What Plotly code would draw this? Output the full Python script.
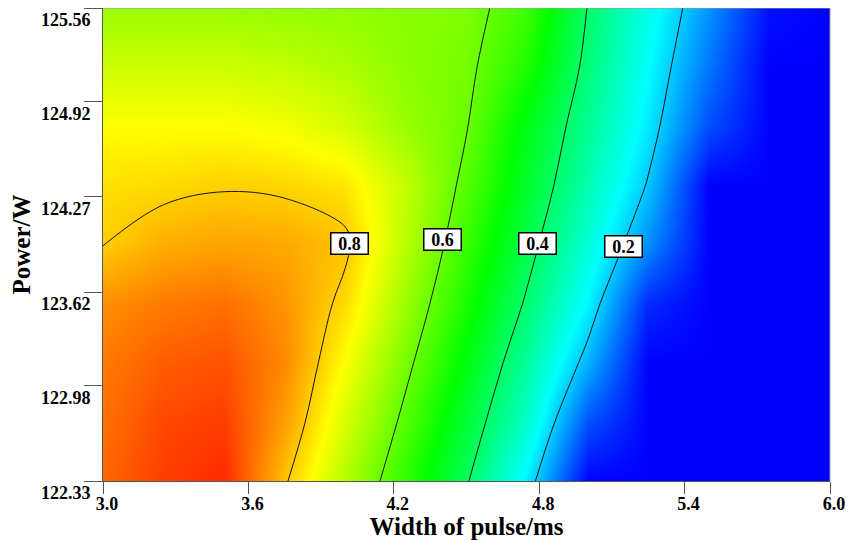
import plotly.graph_objects as go

# Width of pulse (ms) grid and Power (W) grid
width_ms = [3.0, 3.25, 3.5, 3.75, 4.0, 4.25, 4.5, 4.75, 5.0, 5.25, 5.5, 5.75, 6.0]
power_w = [122.33, 122.73, 123.14, 123.54, 123.95, 124.35, 124.75, 125.16, 125.56]

# Desirability values (rows: power, bottom to top)
desirability = [
    [0.90, 0.94, 0.96, 0.807, 0.675, 0.544, 0.407, 0.232, 0.0, 0.0, 0.0, 0.0, 0.0],
    [0.89, 0.93, 0.94, 0.845, 0.711, 0.581, 0.446, 0.30, 0.08, 0.0, 0.0, 0.0, 0.0],
    [0.88, 0.91, 0.92, 0.865, 0.748, 0.617, 0.485, 0.345, 0.175, 0.0, 0.0, 0.0, 0.0],
    [0.86, 0.88, 0.89, 0.855, 0.785, 0.651, 0.522, 0.39, 0.241, 0.04, 0.0, 0.0, 0.0],
    [0.798, 0.83, 0.84, 0.835, 0.81, 0.68, 0.554, 0.427, 0.288, 0.14, 0.0, 0.0, 0.0],
    [0.78, 0.785, 0.795, 0.79, 0.775, 0.69, 0.582, 0.458, 0.327, 0.194, 0.0, 0.0, 0.0],
    [0.75, 0.75, 0.75, 0.74, 0.71, 0.65, 0.603, 0.479, 0.356, 0.229, 0.076, 0.0, 0.0],
    [0.70, 0.70, 0.70, 0.69, 0.67, 0.635, 0.615, 0.53, 0.38, 0.252, 0.115, 0.0, 0.0],
    [0.65, 0.65, 0.65, 0.645, 0.64, 0.632, 0.625, 0.56, 0.398, 0.273, 0.145, 0.015, 0.0],
]

x_ticks = [3.0, 3.6, 4.2, 4.8, 5.4, 6.0]
x_ticktext = ["3.0", "3.6", "4.2", "4.8", "5.4", "6.0"]
y_ticks = [122.33, 122.98, 123.62, 124.27, 124.92, 125.56]
y_ticktext = ["122.33", "122.98", "123.62", "124.27", "124.92", "125.56"]

# contour label texts and where they sit on their lines
label_text = ["0.8", "0.6", "0.4", "0.2"]
label_x = [4.019, 4.403, 4.795, 5.146]
label_y = [123.95, 123.98, 123.95, 123.93]

colorscale = [
    [0.0, "rgb(0,0,255)"],
    [0.25, "rgb(0,255,255)"],
    [0.5, "rgb(0,255,0)"],
    [0.75, "rgb(255,255,0)"],
    [1.0, "rgb(255,0,0)"],
]

FONT = "Liberation Serif"

fig = go.Figure()
fig.add_trace(go.Heatmap(
    x=width_ms, y=power_w, z=desirability,
    colorscale=colorscale, zmin=0, zmax=1,
    zsmooth="best", showscale=False, hoverinfo="skip",
))
fig.add_trace(go.Contour(
    x=width_ms, y=power_w, z=desirability,
    contours=dict(start=0.2, end=0.8, size=0.2, coloring="none", showlabels=False),
    line=dict(color="rgb(20,20,20)", width=1),
    showscale=False, hoverinfo="skip",
))

for t, lx, ly in zip(label_text, label_x, label_y):
    fig.add_annotation(
        x=lx, y=ly, text="<b>%s</b>" % t, showarrow=False,
        font=dict(family=FONT, size=18, color="black"),
        width=34, height=18,
        bgcolor="white", bordercolor="black", borderwidth=1.5, borderpad=1,
    )

# page body adds ~8px offset; figure sized to fit the window
fig.update_layout(
    width=853, height=532,
    margin=dict(l=95, r=31, t=0, b=59),
    paper_bgcolor="white", plot_bgcolor="white",
    showlegend=False,
    font=dict(family=FONT, color="black"),
)
fig.update_xaxes(
    range=[3.0, 6.0], tickvals=x_ticks, ticktext=x_ticktext, automargin=False,
    ticks="outside", ticklen=12, tickcolor="#555", tickwidth=1,
    showline=True, linecolor="#555", linewidth=1, showgrid=False, zeroline=False,
    tickfont=dict(family=FONT, size=18, color="black", weight="bold"),
    ticklabelshift=4, ticklabelstandoff=-6, ticklabeloverflow="allow",
    title=dict(text="<b>Width of pulse/ms</b>", font=dict(family=FONT, size=25), standoff=0),
)
fig.update_yaxes(
    range=[122.33, 125.56], tickvals=y_ticks, ticktext=y_ticktext, automargin=False,
    ticks="outside", ticklen=18, tickcolor="#555", tickwidth=1,
    showline=True, linecolor="#555", linewidth=1, showgrid=False, zeroline=False,
    tickfont=dict(family=FONT, size=18, color="black", weight="bold"),
    ticklabelshift=12, ticklabelstandoff=-10, ticklabeloverflow="allow",
    title=dict(text="<b>Power/W</b>", font=dict(family=FONT, size=25), standoff=4),
)
# light frame on top and right
fig.add_shape(type="line", xref="paper", yref="paper", x0=0, x1=1, y0=1, y1=1,
              line=dict(color="#999", width=1))
fig.add_shape(type="line", xref="paper", yref="paper", x0=1, x1=1, y0=0, y1=1,
              line=dict(color="#999", width=1))

fig.write_html("out.html")
